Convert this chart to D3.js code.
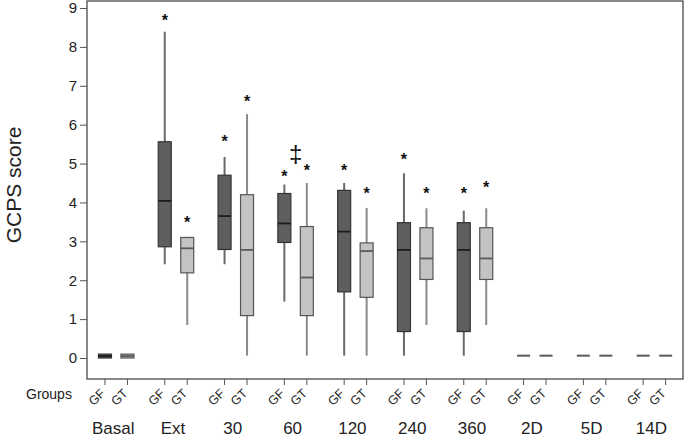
<!DOCTYPE html>
<html>
<head>
<meta charset="utf-8">
<script src="https://cdn.jsdelivr.net/npm/d3@7"></script>
<style>
  body { margin: 0; background: #fff; }
  svg { display: block; font-family: "Liberation Sans", Arial, sans-serif; }
</style>
</head>
<body>
<div id="chart"></div>
<script>
// Groups along the x axis, two boxes (GF, GT) per group.
const groups = ["Basal", "Ext", "30", "60", "120", "240", "360", "2D", "5D", "14D"];
const series = ["GF", "GT"];

// Box summaries: whisker low, Q1, median, Q3, whisker high.
const gfLow  = [0,    2.41, 2.41, 1.45, 0.06, 0.06, 0.06, 0.06, 0.06, 0.06];
const gfQ1   = [0,    2.86, 2.79, 2.97, 1.70, 0.68, 0.68, 0.06, 0.06, 0.06];
const gfMed  = [0.05, 4.04, 3.65, 3.46, 3.25, 2.78, 2.78, 0.06, 0.06, 0.06];
const gfQ3   = [0.1,  5.56, 4.70, 4.23, 4.31, 3.48, 3.48, 0.06, 0.06, 0.06];
const gfHigh = [0.1,  8.39, 5.17, 4.46, 4.50, 4.75, 3.79, 0.06, 0.06, 0.06];

const gtLow  = [0,    0.85, 0.06, 0.06, 0.06, 0.85, 0.85, 0.06, 0.06, 0.06];
const gtQ1   = [0,    2.19, 1.09, 1.09, 1.56, 2.02, 2.02, 0.06, 0.06, 0.06];
const gtMed  = [0.05, 2.82, 2.78, 2.07, 2.75, 2.56, 2.56, 0.06, 0.06, 0.06];
const gtQ3   = [0.1,  3.10, 4.20, 3.38, 2.96, 3.35, 3.35, 0.06, 0.06, 0.06];
const gtHigh = [0.1,  3.10, 6.27, 4.50, 3.86, 3.85, 3.85, 0.06, 0.06, 0.06];

// Significance marks (* above a box, ‡ between the pair), at the score they sit on.
const starGroup  = ["Ext", "Ext", "30", "30", "60", "60", "120", "120", "240", "240", "360", "360"];
const starSeries = ["GF", "GT", "GF", "GT", "GF", "GT", "GF", "GT", "GF", "GT", "GF", "GT"];
const starAt     = [8.76, 3.57, 5.66, 6.68, 4.76, 4.91, 4.90, 4.32, 5.20, 4.32, 4.32, 4.47];
const daggerGroup = ["60"];
const daggerAt    = [5.22];

const yTicks = [0, 1, 2, 3, 4, 5, 6, 7, 8, 9];

const W = 685, H = 440;
const frame = { left: 87, right: 683, top: 1, bottom: 379 };
const boxW = 13;

const svg = d3.select("#chart").append("svg")
  .attr("width", W)
  .attr("height", H);

const y = d3.scaleLinear().domain([0, 9]).range([358, 8]);
const x = d3.scaleBand().domain(groups).range([86.3, 684.3]).paddingInner(0).paddingOuter(0);
const xs = d3.scalePoint().domain(series).range([0, x.bandwidth()]).padding(0.83);
const cx = (g, s) => x(g) + xs(s);

const rows = [];
groups.forEach((g, i) => {
  rows.push({ g, s: "GF", lo: gfLow[i], q1: gfQ1[i], med: gfMed[i], q3: gfQ3[i], hi: gfHigh[i] });
  rows.push({ g, s: "GT", lo: gtLow[i], q1: gtQ1[i], med: gtMed[i], q3: gtQ3[i], hi: gtHigh[i] });
});

const style = {
  GF: { fill: "#5e5e5e", stroke: "#333", whisker: "#6a6a6a", median: "#1c1c1c" },
  GT: { fill: "#c3c3c3", stroke: "#555", whisker: "#8a8a8a", median: "#5a5a5a" }
};

// frame
svg.append("rect")
  .attr("x", frame.left).attr("y", frame.top)
  .attr("width", frame.right - frame.left)
  .attr("height", frame.bottom - frame.top)
  .attr("fill", "none").attr("stroke", "#4a4a4a").attr("stroke-width", 1.3);

// y axis
const yAxis = d3.axisLeft(y).tickValues(yTicks).tickSize(7).tickPadding(3).tickFormat(d3.format("d"));
const gy = svg.append("g").attr("transform", `translate(${frame.left},0)`).call(yAxis);
gy.select(".domain").remove();
gy.selectAll(".tick line").attr("stroke", "#555");
gy.selectAll(".tick text").attr("font-size", 15).attr("fill", "#222")
  .attr("font-family", "\"Liberation Sans\", Arial, sans-serif");

svg.append("text")
  .attr("transform", "translate(21,185) rotate(-90)")
  .attr("text-anchor", "middle")
  .attr("font-size", 21)
  .attr("fill", "#222")
  .text("GCPS score");

// bottom ticks and GF/GT labels
const bottom = svg.append("g");
rows.forEach(d => {
  const px = cx(d.g, d.s);
  bottom.append("line")
    .attr("x1", px).attr("x2", px)
    .attr("y1", frame.bottom).attr("y2", frame.bottom + 6)
    .attr("stroke", "#555");
  bottom.append("text")
    .attr("transform", `translate(${px + 1},394) rotate(-45)`)
    .attr("text-anchor", "end")
    .attr("font-size", 12.5)
    .attr("fill", "#222")
    .text(d.s);
});

svg.append("text")
  .attr("x", 26).attr("y", 399)
  .attr("font-size", 14)
  .attr("fill", "#222")
  .text("Groups");

svg.append("g").selectAll("text")
  .data(groups)
  .join("text")
  .attr("x", g => x(g) + x.bandwidth() / 2 - 3)
  .attr("y", 434)
  .attr("text-anchor", "middle")
  .attr("font-size", 17)
  .attr("fill", "#222")
  .text(g => g);

// boxes
const box = svg.append("g").selectAll("g")
  .data(rows)
  .join("g")
  .attr("transform", d => `translate(${cx(d.g, d.s)},0)`);

box.filter(d => d.hi > d.lo).append("line")
  .attr("y1", d => y(d.lo)).attr("y2", d => y(d.hi))
  .attr("stroke", d => style[d.s].whisker)
  .attr("stroke-width", 2);

box.filter(d => d.q3 > d.q1).append("rect")
  .attr("x", -boxW / 2)
  .attr("width", boxW)
  .attr("y", d => y(d.q3))
  .attr("height", d => y(d.q1) - y(d.q3))
  .attr("fill", d => style[d.s].fill)
  .attr("stroke", d => style[d.s].stroke)
  .attr("stroke-width", 1.2);

box.append("line")
  .attr("x1", -boxW / 2).attr("x2", boxW / 2)
  .attr("y1", d => y(d.med)).attr("y2", d => y(d.med))
  .attr("stroke", d => d.q3 > d.q1 ? style[d.s].median : "#5a5a5a")
  .attr("stroke-width", d => d.q3 > d.q1 ? 1.8 : 2);

// significance marks
svg.append("g").selectAll("text")
  .data(starAt.map((v, i) => ({ g: starGroup[i], s: starSeries[i], v })))
  .join("text")
  .attr("x", d => cx(d.g, d.s))
  .attr("y", d => y(d.v) + 9)
  .attr("text-anchor", "middle")
  .attr("font-size", 16)
  .attr("font-weight", "bold")
  .attr("fill", "#111")
  .text("*");

svg.append("g").selectAll("text")
  .data(daggerAt.map((v, i) => ({ g: daggerGroup[i], v })))
  .join("text")
  .attr("x", d => x(d.g) + x.bandwidth() / 2)
  .attr("y", d => y(d.v) + 7)
  .attr("text-anchor", "middle")
  .attr("font-size", 24)
  .attr("fill", "#111")
  .text("\u2021");
</script>
</body>
</html>
